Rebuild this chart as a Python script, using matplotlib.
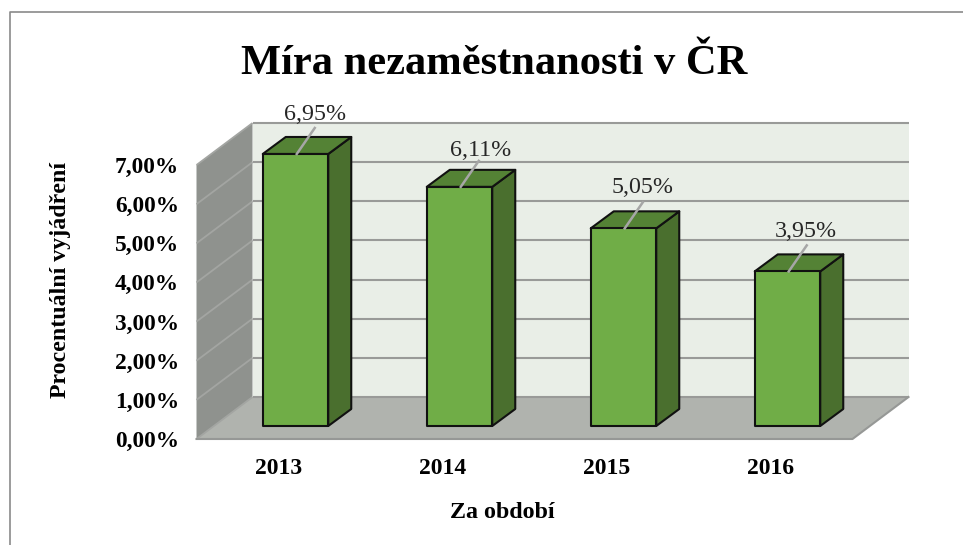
import matplotlib
matplotlib.use("Agg")
import matplotlib.pyplot as plt
from matplotlib.lines import Line2D
from matplotlib.patches import Polygon

years = ["2013", "2014", "2015", "2016"]
rates = [6.95, 6.11, 5.05, 3.95]
rate_labels = ["6,95%", "6,11%", "5,05%", "3,95%"]
y_ticks = [0, 1, 2, 3, 4, 5, 6, 7]
y_labels = ["0,00%", "1,00%", "2,00%", "3,00%", "4,00%", "5,00%", "6,00%", "7,00%"]

W, H = 963, 545
# pixel sizes of one category and one percent, used for the fake 3d depth
CAT_PX = 164
PCT_PX = 39.14
AX_LEFT = 196.5
AX_BOTTOM = 439
DEPTH_X = 56 / CAT_PX
DEPTH_Y = 42 / PCT_PX

# hand placed value labels (px from the bar's top left corner)
label_dx = [52.5, 54, 51.5, 51.5]
label_dy = [34, 31, 35, 34]

plt.rcParams["font.family"] = ["Liberation Serif", "DejaVu Serif"]

fig = plt.figure(figsize=(W / 100, H / 100), dpi=100)
ax = fig.add_axes([AX_LEFT / W, 1 - AX_BOTTOM / H, 4 * CAT_PX / W, 7 * PCT_PX / H])
ax.set_xlim(-0.5, 3.5)
ax.set_ylim(0, 7)
ax.patch.set_visible(False)
for spine in ax.spines.values():
    spine.set_visible(False)


def poly(points, color, edge="none", lw=0, z=1):
    ax.add_patch(Polygon(points, closed=True, facecolor=color, edgecolor=edge,
                         linewidth=lw, zorder=z, clip_on=False, joinstyle="round"))


left, right = ax.get_xlim()
top = y_ticks[-1]

# walls and floor
poly([(left + DEPTH_X, DEPTH_Y), (right + DEPTH_X, DEPTH_Y),
      (right + DEPTH_X, top + DEPTH_Y), (left + DEPTH_X, top + DEPTH_Y)], "#e9eee7")
poly([(left, 0), (left + DEPTH_X, DEPTH_Y),
      (left + DEPTH_X, top + DEPTH_Y), (left, top)], "#8f928e")
poly([(left, 0), (right, 0), (right + DEPTH_X, DEPTH_Y), (left + DEPTH_X, DEPTH_Y)], "#b0b3ae")

# grid runs along the side wall and then the back wall
for t in y_ticks:
    ax.plot([left, left + DEPTH_X], [t, t + DEPTH_Y], color="#a3a5a2", lw=1.3,
            zorder=2, clip_on=False, solid_capstyle="butt")
    ax.plot([left + DEPTH_X, right + DEPTH_X], [t + DEPTH_Y, t + DEPTH_Y], color="#999a98",
            lw=1.5, zorder=2, clip_on=False, solid_capstyle="butt")
ax.plot([left, right, right + DEPTH_X], [0, 0, DEPTH_Y],
        color="#969896", lw=1.5, zorder=3, clip_on=False)

# bars
bar_w = 65.5 / CAT_PX
shift_x = 17 / CAT_PX
shift_y = 13 / PCT_PX
bar_dx = 23 / CAT_PX
bar_dy = 17 / PCT_PX
for i, (val, lab) in enumerate(zip(rates, rate_labels)):
    x0 = i + shift_x - bar_w / 2
    x1 = x0 + bar_w
    y0 = shift_y
    y1 = y0 + val
    poly([(x1, y0), (x1 + bar_dx, y0 + bar_dy), (x1 + bar_dx, y1 + bar_dy), (x1, y1)],
         "#4a6f2e", "#111111", 1.5, 4)
    poly([(x0, y1), (x1, y1), (x1 + bar_dx, y1 + bar_dy), (x0 + bar_dx, y1 + bar_dy)],
         "#548235", "#111111", 1.5, 4)
    poly([(x0, y0), (x1, y0), (x1, y1), (x0, y1)], "#70ad47", "#111111", 1.5, 5)

    # leader line and value label
    lx = x0 + 34 / CAT_PX
    ax.plot([lx, lx + 18 / CAT_PX], [y1, y1 + 26 / PCT_PX], color="#a6a6a6", lw=1.8,
            zorder=6, clip_on=False)
    ax.text(x0 + label_dx[i] / CAT_PX, y1 + label_dy[i] / PCT_PX, lab, fontsize=17.3,
            color="#262626", ha="center", va="baseline", zorder=7, clip_on=False)

ax.set_xticks(range(len(years)), years, fontsize=17, fontweight="bold")
ax.set_yticks(y_ticks, y_labels, fontsize=16.8, fontweight="bold")
ax.tick_params(axis="both", length=0)
ax.tick_params(axis="x", pad=13.5)
ax.tick_params(axis="y", pad=12.5)
ax.set_xlabel("Za období", fontsize=17.3, fontweight="bold")
ax.set_ylabel("Procentuální vyjádření", fontsize=17.2, fontweight="bold")
ax.xaxis.set_label_coords((502 - AX_LEFT) / (4 * CAT_PX), (AX_BOTTOM - 502) / (7 * PCT_PX))
ax.yaxis.set_label_coords((71 - AX_LEFT) / (4 * CAT_PX), (AX_BOTTOM - 279.5) / (7 * PCT_PX))

fig.text(494 / W, 1 - 74 / H, "Míra nezaměstnanosti v ČR", fontsize=30.6, fontweight="bold",
         ha="center", va="baseline", color="black")

# thin frame, only top and left are visible in the crop
fig.add_artist(Line2D([9.5 / W, 9.5 / W, 1], [0, 1 - 11.5 / H, 1 - 11.5 / H],
                      color="#8a8a8a", lw=1.2))

fig.savefig("out.png", dpi=100)
